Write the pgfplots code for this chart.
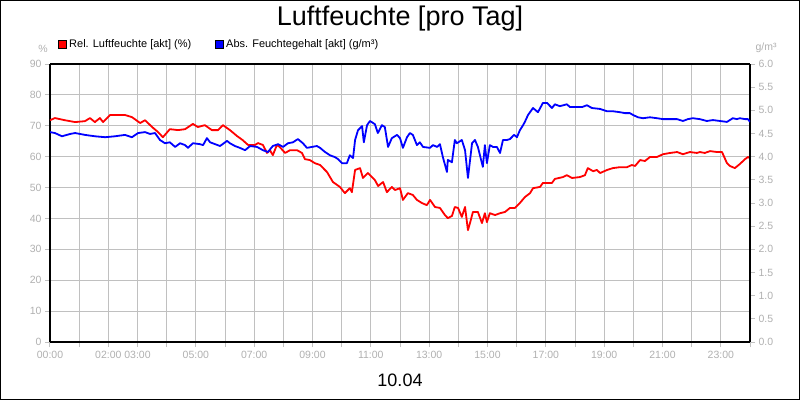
\documentclass[border=0pt]{standalone}
\usepackage{pgfplots}
\usepackage{pgfplotstable}
\pgfplotsset{compat=1.18}
\usepackage{fontspec}
\setmainfont{Liberation Sans}

\definecolor{tickgray}{HTML}{B0B0B0}
\definecolor{gridgray}{HTML}{C0C0C0}

% Rel. Luftfeuchte (%), Stunde
\pgfplotstableread{
h rh
0 71.8
0.17 72.5
0.51 71.8
0.86 71.2
1.20 71.5
1.37 72.5
1.54 71.2
1.71 72.5
1.82 71.2
2.06 73.5
2.57 73.5
2.81 72.8
3.09 70.9
3.26 71.8
3.50 69.6
3.70 68.0
3.87 66.3
4.11 68.9
4.39 68.6
4.63 68.9
4.90 70.6
5.07 69.6
5.31 70.2
5.55 68.6
5.76 68.6
5.93 70.2
6.17 68.6
6.41 66.7
6.60 65.4
6.79 63.8
7.03 63.8
7.13 64.4
7.30 63.8
7.44 61.2
7.54 62.1
7.64 60.5
7.78 63.8
7.88 63.1
8.06 61.2
8.23 62.1
8.47 62.1
8.64 61.2
8.74 59.2
8.91 58.9
9.08 57.9
9.26 57.3
9.50 55.0
9.70 51.8
9.94 50.2
10.11 48.2
10.28 49.8
10.35 48.5
10.46 55.7
10.63 56.3
10.73 53.1
10.90 54.7
11.14 52.4
11.25 50.5
11.42 51.8
11.55 48.5
11.72 50.2
11.83 49.2
12.00 49.8
12.10 46.0
12.27 48.2
12.44 47.6
12.58 46.0
12.75 45.0
12.92 44.3
13.03 46.0
13.20 43.7
13.37 43.4
13.54 41.1
13.64 40.1
13.78 40.8
13.88 43.7
13.99 43.4
14.12 40.5
14.23 43.7
14.33 36.2
14.40 38.5
14.50 42.1
14.67 42.1
14.81 38.5
14.91 41.7
14.98 38.8
15.08 41.7
15.26 41.1
15.43 41.7
15.60 42.1
15.77 43.4
15.94 43.4
16.11 45.0
16.28 46.9
16.46 48.2
16.56 49.8
16.80 50.2
16.90 51.5
17.21 51.5
17.31 52.8
17.59 53.4
17.72 54.0
17.90 53.1
18.17 53.4
18.34 54.0
18.44 56.3
18.62 55.3
18.75 55.7
18.86 54.7
19.10 55.7
19.30 56.3
19.54 56.6
19.78 56.6
19.95 57.3
20.06 57.0
20.23 58.9
20.40 58.6
20.57 59.9
20.81 59.9
21.02 60.8
21.26 61.2
21.50 61.5
21.70 60.8
21.94 61.5
22.18 61.2
22.28 61.5
22.45 61.2
22.63 61.8
22.87 61.5
23.04 61.5
23.21 57.9
23.31 57.0
23.48 56.3
23.65 57.6
23.83 59.2
23.93 59.9
24.00 59.5
}\relfeuchte

% Abs. Feuchtegehalt (g/m3), Stunde
\pgfplotstableread{
h ah
0 4.53
0.17 4.51
0.41 4.44
0.69 4.49
0.86 4.51
1.20 4.47
1.54 4.44
1.89 4.42
2.23 4.44
2.57 4.47
2.81 4.42
3.02 4.51
3.26 4.53
3.43 4.49
3.60 4.51
3.77 4.36
3.94 4.29
4.11 4.31
4.29 4.21
4.46 4.29
4.63 4.25
4.73 4.19
4.90 4.29
5.14 4.27
5.25 4.25
5.38 4.40
5.49 4.31
5.66 4.27
5.83 4.23
6.07 4.34
6.17 4.29
6.34 4.23
6.51 4.19
6.69 4.14
6.86 4.23
7.10 4.21
7.30 4.14
7.47 4.10
7.64 4.23
7.82 4.27
7.99 4.21
8.16 4.29
8.33 4.31
8.50 4.38
8.67 4.29
8.81 4.19
8.98 4.21
9.15 4.23
9.26 4.19
9.43 4.10
9.60 4.03
9.77 3.99
9.87 3.95
10.01 3.86
10.18 3.86
10.28 4.03
10.39 3.97
10.46 4.36
10.56 4.57
10.70 4.66
10.76 4.31
10.87 4.68
10.97 4.77
11.14 4.70
11.24 4.51
11.38 4.68
11.48 4.64
11.59 4.21
11.72 4.40
11.90 4.47
12.00 4.40
12.10 4.19
12.24 4.42
12.34 4.51
12.44 4.47
12.58 4.25
12.68 4.31
12.79 4.21
13.03 4.19
13.13 4.25
13.27 4.21
13.37 4.27
13.47 3.99
13.61 3.67
13.64 3.93
13.78 3.88
13.88 4.36
13.95 4.29
14.12 4.36
14.23 4.14
14.33 3.54
14.47 4.29
14.57 4.36
14.67 4.21
14.84 3.78
14.91 4.25
14.98 3.86
15.08 4.25
15.19 4.21
15.32 4.21
15.43 4.08
15.53 4.36
15.67 4.36
15.77 4.38
15.91 4.47
16.01 4.42
16.11 4.57
16.22 4.68
16.28 4.75
16.39 4.90
16.56 5.05
16.73 4.96
16.90 5.16
17.04 5.16
17.21 5.05
17.31 5.13
17.48 5.09
17.72 5.13
17.83 5.07
18.07 5.07
18.24 5.07
18.41 5.11
18.58 5.05
18.86 5.03
19.10 4.98
19.30 4.98
19.54 4.96
19.71 4.94
19.88 4.94
19.99 4.90
20.16 4.85
20.33 4.83
20.57 4.85
20.81 4.83
21.02 4.81
21.26 4.81
21.50 4.81
21.70 4.77
21.87 4.81
22.04 4.83
22.28 4.81
22.52 4.77
22.73 4.79
22.97 4.77
23.21 4.75
23.41 4.83
23.55 4.81
23.65 4.83
23.83 4.81
23.93 4.81
24.00 4.75
}\absfeuchte

\pgfplotsset{
  chartbase/.style={
    scale only axis,
    width=700pt, height=278pt,
    at={(50pt,58pt)}, anchor=south west,
    xmin=0, xmax=24,
    tick align=outside,
    major tick length=5pt,
    every tick/.style={gridgray, line width=1pt},
    tick label style={font=\fontsize{10.5}{12}\selectfont, text=tickgray},
    /pgf/number format/assume math mode=true,
  },
}

\begin{document}
\begin{tikzpicture}[x=1pt,y=1pt]
  \useasboundingbox (0,0) rectangle (800,400);
  \draw[black, line width=1.2pt] (0.6,0.6) rectangle (799.4,399.4);

  \node[font=\fontsize{27}{30}\selectfont] at (400,381) {Luftfeuchte [pro Tag]};
  \node[font=\fontsize{18}{20}\selectfont] at (400,20) {10.04};

  % legend
  \draw[black, fill=red, line width=0.6pt] (58,351.5) rectangle (66,359.5);
  \node[anchor=west, inner sep=0pt, font=\fontsize{11}{12}\selectfont] at (69,355.5) {Rel. Luftfeuchte [akt] (\%)};
  \draw[black, fill=blue, line width=0.6pt] (215,351.5) rectangle (223,359.5);
  \node[anchor=west, inner sep=0pt, font=\fontsize{11}{12}\selectfont] at (226,355.5) {Abs. Feuchtegehalt [akt] (g/m³)};

  \node[text=tickgray, font=\fontsize{10.5}{12}\selectfont] at (43,351) {\%};
  \node[text=tickgray, font=\fontsize{10.5}{12}\selectfont] at (766,352) {g/m³};

  \begin{axis}[
    chartbase,
    ymin=0, ymax=90,
    ytick={0,10,...,90},
    xtick={0,1,...,24},
    xticklabels={00:00,,02:00,03:00,,05:00,,07:00,,09:00,,11:00,,13:00,,15:00,,17:00,,19:00,,21:00,,23:00,},
    xticklabel style={yshift=-1pt},
    grid=major,
    major grid style={gridgray, line width=1pt},
    axis y line*=left,
    axis x line*=bottom,
    axis line style={black, line width=1.5pt},
    separate axis lines,
  ]
    \addplot[red, line width=1.8pt, line join=round] table[x=h, y=rh] {\relfeuchte};
  \end{axis}

  \begin{axis}[
    chartbase,
    ymin=0, ymax=6,
    ytick={0,0.5,...,6},
    yticklabel style={/pgf/number format/.cd, fixed, fixed zerofill, precision=1},
    axis y line*=right,
    axis x line*=top,
    xtick=\empty,
    axis line style={black, line width=1.5pt},
  ]
    \addplot[blue, line width=1.8pt, line join=round] table[x=h, y=ah] {\absfeuchte};
  \end{axis}
\end{tikzpicture}
\end{document}
